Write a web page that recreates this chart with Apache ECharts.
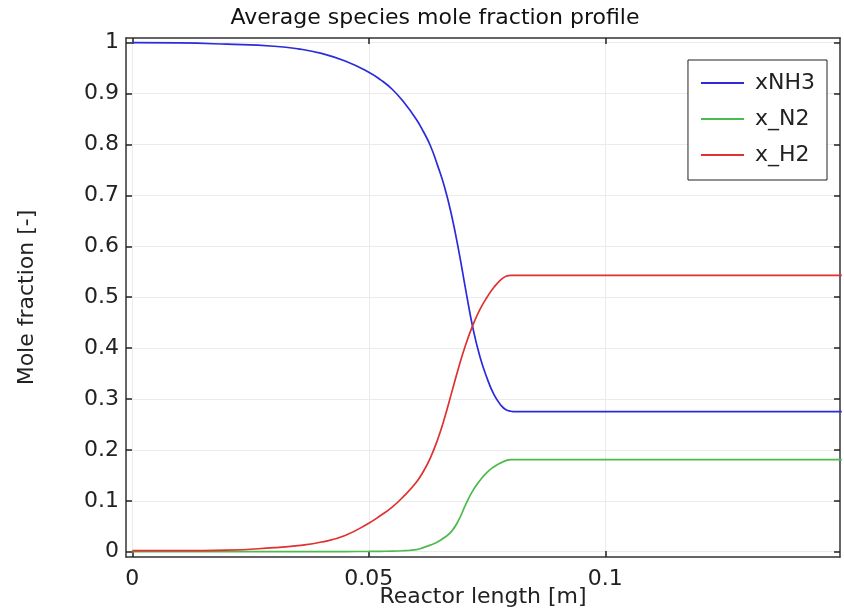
<!DOCTYPE html>
<html>
<head>
<meta charset="utf-8">
<script src="https://cdn.jsdelivr.net/npm/echarts@6/dist/echarts.min.js"></script>
<style>
  html, body { margin: 0; padding: 0; background: #fff; }
  #chart { width: 844px; height: 614px; }
</style>
</head>
<body>
<div id="chart"></div>
<script>
// Reactor position samples [m]
const reactorLength = [0, 0.01, 0.02, 0.03, 0.035, 0.04, 0.045, 0.05, 0.0525, 0.055, 0.0575, 0.06,
  0.0615, 0.063, 0.0645, 0.066, 0.0675, 0.069, 0.0705, 0.072, 0.0735, 0.075, 0.0765, 0.078,
  0.079, 0.08, 0.081, 0.09, 0.1, 0.12, 0.15];

// Average mole fractions along the reactor
const xNH3 = [1.0, 0.9995, 0.997, 0.993, 0.988, 0.979, 0.964, 0.942, 0.927, 0.908, 0.882, 0.85,
  0.826, 0.798, 0.76, 0.717, 0.661, 0.592, 0.514, 0.44, 0.383, 0.341, 0.308, 0.287,
  0.279, 0.276, 0.275, 0.275, 0.275, 0.275, 0.275];
const xN2 = [0, 0, 0, 0, 0, 0, 0.0003, 0.0005, 0.0008, 0.001, 0.002, 0.004,
  0.008, 0.013, 0.019, 0.028, 0.04, 0.062, 0.093, 0.12, 0.14, 0.156, 0.167, 0.175,
  0.179, 0.181, 0.181, 0.181, 0.181, 0.181, 0.181];
const xH2 = [0.002, 0.002, 0.003, 0.008, 0.012, 0.019, 0.032, 0.056, 0.071, 0.088, 0.11, 0.136,
  0.157, 0.184, 0.219, 0.262, 0.312, 0.362, 0.407, 0.445, 0.476, 0.5, 0.52, 0.535,
  0.541, 0.543, 0.543, 0.543, 0.543, 0.543, 0.543];

// Tick positions
const xTicks = [0, 0.05, 0.1];
const yTicks = [0, 0.1, 0.2, 0.3, 0.4, 0.5, 0.6, 0.7, 0.8, 0.9, 1];

const seriesNames = ['xNH3', 'x_N2', 'x_H2'];
const seriesColors = ['#2b2bdb', '#4cba4c', '#e03030'];
const seriesValues = [xNH3, xN2, xH2];

const X_MIN = -0.00133, X_MAX = 0.14962;
const Y_MIN = -0.0104, Y_MAX = 1.0092;

const font = 'DejaVu Sans';
const FS = 22;
const axisLineStyle = { color: '#333', width: 1.5 };
const tickStyle = { color: '#222', width: 1.5 };

function pairs(ys) {
  return reactorLength.map((x, i) => [x, ys[i]]);
}

const chart = echarts.init(document.getElementById('chart'), null, { renderer: 'canvas' });

chart.setOption({
  animation: false,
  backgroundColor: '#fff',
  title: {
    text: 'Average species mole fraction profile',
    left: 430, textAlign: 'center', top: 2,
    textStyle: { fontFamily: font, fontSize: FS, fontWeight: 'normal', color: '#111' }
  },
  grid: { left: 126, right: 4, top: 38, bottom: 57, containLabel: false, outerBoundsMode: 'none' },
  legend: {
    orient: 'vertical',
    right: 17, top: 60,
    padding: [11, 12, 13, 13],
    backgroundColor: '#fff',
    borderColor: '#222', borderWidth: 1,
    icon: 'rect',
    itemWidth: 43, itemHeight: 2,
    itemGap: 12,
    data: seriesNames,
    textStyle: { fontFamily: font, fontSize: FS, color: '#222', lineHeight: 24, padding: [0, 0, 0, 6] }
  },
  xAxis: [{
    type: 'value', position: 'bottom',
    min: X_MIN, max: X_MAX,
    name: 'Reactor length [m]', nameLocation: 'middle', nameGap: 29, nameMoveOverlap: false,
    nameTextStyle: { fontFamily: font, fontSize: FS, color: '#222' },
    axisLine: { show: true, onZero: false, lineStyle: axisLineStyle },
    axisTick: { show: true, inside: true, length: 6, lineStyle: tickStyle, customValues: xTicks },
    axisLabel: { show: true, customValues: xTicks, margin: 11, fontFamily: font, fontSize: FS, color: '#222',
      formatter: v => String(+v.toFixed(4)) },
    splitLine: { show: true, lineStyle: { color: '#ebebeb', width: 1 } }
  }, {
    type: 'value', position: 'top',
    min: X_MIN, max: X_MAX,
    axisLine: { show: true, onZero: false, lineStyle: axisLineStyle },
    axisTick: { show: true, inside: true, length: 6, lineStyle: tickStyle, customValues: xTicks },
    axisLabel: { show: false },
    splitLine: { show: false }
  }],
  yAxis: [{
    type: 'value', position: 'left',
    min: Y_MIN, max: Y_MAX,
    name: 'Mole fraction [-]', nameLocation: 'middle', nameGap: 88, nameMoveOverlap: false,
    nameTextStyle: { fontFamily: font, fontSize: FS, color: '#222' },
    axisLine: { show: true, onZero: false, lineStyle: axisLineStyle },
    axisTick: { show: true, inside: true, length: 6, lineStyle: tickStyle, customValues: yTicks },
    axisLabel: { show: true, customValues: yTicks, margin: 7, fontFamily: font, fontSize: FS, color: '#222',
      formatter: v => String(+v.toFixed(4)) },
    splitLine: { show: true, lineStyle: { color: '#ebebeb', width: 1 } }
  }, {
    type: 'value', position: 'right',
    min: Y_MIN, max: Y_MAX,
    axisLine: { show: true, onZero: false, lineStyle: axisLineStyle },
    axisTick: { show: true, inside: true, length: 6, lineStyle: tickStyle, customValues: yTicks },
    axisLabel: { show: false },
    splitLine: { show: false }
  }],
  series: seriesNames.map((name, i) => ({
    name,
    type: 'line',
    xAxisIndex: 0, yAxisIndex: 0,
    data: pairs(seriesValues[i]),
    showSymbol: false,
    smooth: 0.5,
    lineStyle: { color: seriesColors[i], width: 1.7 },
    itemStyle: { color: seriesColors[i] },
    z: 3 + i
  }))
});
</script>
</body>
</html>
